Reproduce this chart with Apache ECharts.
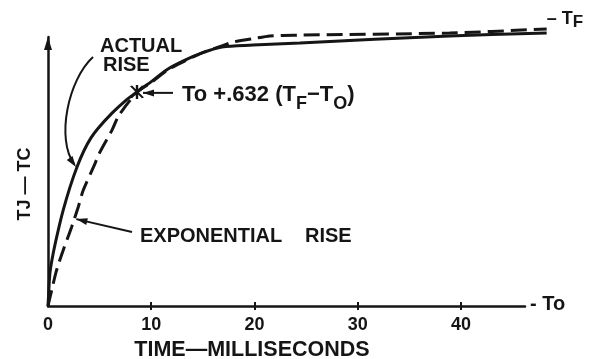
<!DOCTYPE html>
<html>
<head>
<meta charset="utf-8">
<script src="https://cdn.jsdelivr.net/npm/echarts@6/dist/echarts.min.js"></script>
<style>
  html, body { margin: 0; padding: 0; background: #fff; }
  #chart { width: 602px; height: 359px; }
</style>
</head>
<body>
<div id="chart"></div>
<script>
// Time axis, milliseconds
const TICK_VALUES = [0, 10, 20, 30, 40];
const TICK_LABELS = ['0', '10', '20', '30', '40'];
const T_AXIS_MAX = 46.2;   // end of the drawn time axis
const T_DATA_MAX = 48.6;   // curves run a little past the axis end
const V_AXIS_MAX = 100;    // arrow tip of the vertical axis
const V_DATA_MAX = 104;    // room above the arrow for the TF level

// Junction-to-case temperature rise (percent of the vertical scale)
const ACTUAL_T = [0, 0.05, 0.19, 0.51, 1.0, 1.48, 2.13, 2.81, 3.49, 4.16, 4.84, 6.2, 7.46, 8.62, 10.07, 11.62, 13.27, 14.92, 16.85, 19.85, 24.4, 38.9, 48.3];
const ACTUAL_V = [0, 3.5, 12.3, 19.7, 28.3, 35.7, 44.2, 51.7, 57.8, 62.5, 66.0, 71.7, 76.2, 79.6, 83.6, 88.1, 91.4, 94.1, 96.3, 97.0, 97.8, 100.4, 101.5];

const EXP_T = [0, 0.36, 0.84, 1.48, 2.29, 2.93, 3.42, 4.39, 5.03, 6.2, 6.78, 7.45, 8.13, 8.62, 10.07, 11.62, 13.27, 14.92, 16.85, 17.9, 19.8, 21.5, 24.4, 38.9, 48.3];
const EXP_V = [0, 5.9, 13.4, 20.8, 29.4, 36.8, 43.1, 51.5, 57.2, 65.4, 70.3, 74.0, 77.3, 79.6, 83.3, 87.8, 91.1, 94.1, 96.7, 98.1, 99.3, 100.4, 100.7, 101.5, 103.0];

// One time constant: To + .632 (TF - TO)
const TAU_POINT = [8.62, 79.6];

const INK = '#151515';
const FONT = '"Liberation Sans", Arial, Helvetica, sans-serif';

// asterisk made of three bars
const STAR_PATH = 'path://M10.8,0 L13.2,0 L13.2,24 L10.8,24 Z ' +
  'M7.04,1.01 L19.04,21.79 L16.96,22.99 L4.96,2.21 Z ' +
  'M16.96,1.01 L19.04,2.21 L7.04,22.99 L4.96,21.79 Z';

const zip = (xs, ys) => xs.map((x, i) => [x, ys[i]]);

// plot frame
const LEFT = 48, BOTTOM = 53, AXIS_W = 477, AXIS_H = 269;
const DATA_W = AXIS_W * T_DATA_MAX / T_AXIS_MAX;
const DATA_H = AXIS_H * V_DATA_MAX / V_AXIS_MAX;

const chart = echarts.init(document.getElementById('chart'), null, { renderer: 'canvas' });

const hiddenAxis = (gridIndex, max) => ({
  type: 'value', gridIndex, min: 0, max, show: false,
  axisLine: { show: false, onZero: false }, splitLine: { show: false }
});

const option = {
  animation: false,
  backgroundColor: '#ffffff',
  grid: [
    // visible axes
    { left: LEFT, bottom: BOTTOM, width: AXIS_W, height: AXIS_H, outerBoundsMode: 'none', containLabel: false },
    // curves (same scale, larger extent so nothing is cut)
    { left: LEFT, bottom: BOTTOM, width: DATA_W, height: DATA_H, outerBoundsMode: 'none', containLabel: false }
  ],
  xAxis: [
    {
      type: 'value', gridIndex: 0, min: 0, max: T_AXIS_MAX, interval: 10, position: 'bottom',
      axisLine: { show: true, onZero: false, lineStyle: { color: INK, width: 2.5 } },
      axisTick: { show: true, length: 4, customValues: TICK_VALUES.slice(1), lineStyle: { color: INK, width: 2 } },
      axisLabel: {
        customValues: TICK_VALUES,
        formatter: v => TICK_LABELS[TICK_VALUES.indexOf(v)],
        fontSize: 18, fontWeight: 'bold', fontFamily: FONT, color: INK, margin: 10
      },
      splitLine: { show: false },
      name: 'TIME—MILLISECONDS', nameLocation: 'middle', nameGap: 33,
      nameTextStyle: { fontSize: 21.5, fontWeight: 'bold', fontFamily: FONT, color: INK, padding: [0, 69, 0, 0] }
    },
    {
      type: 'value', gridIndex: 0, min: 0, max: T_AXIS_MAX, interval: 10, position: 'bottom',
      axisLine: { show: false, onZero: false },
      axisTick: { show: true, inside: true, length: 4, customValues: TICK_VALUES.slice(1), lineStyle: { color: INK, width: 2 } },
      axisLabel: { show: false },
      splitLine: { show: false }
    },
    hiddenAxis(1, T_DATA_MAX)
  ],
  yAxis: [
    {
      type: 'value', gridIndex: 0, min: 0, max: V_AXIS_MAX,
      axisLine: {
        show: true, onZero: false,
        symbol: ['none', 'path://M4,0 L8,13 L0,13 Z'], symbolSize: [8, 13], symbolOffset: [0, -6.5],
        lineStyle: { color: INK, width: 2.5 }
      },
      axisTick: { show: false },
      axisLabel: { show: false },
      splitLine: { show: false },
      name: 'TJ — TC', nameLocation: 'middle', nameGap: 14,
      nameTextStyle: { fontSize: 18, fontWeight: 'bold', fontFamily: FONT, color: INK, padding: [0, 25, 0, 0] }
    },
    hiddenAxis(1, V_DATA_MAX)
  ],
  series: [
    {
      name: 'ACTUAL RISE', type: 'line', xAxisIndex: 2, yAxisIndex: 1,
      data: zip(ACTUAL_T, ACTUAL_V),
      showSymbol: false, smooth: 0.3, clip: false,
      lineStyle: { color: INK, width: 3 }
    },
    {
      name: 'EXPONENTIAL RISE', type: 'line', xAxisIndex: 2, yAxisIndex: 1,
      data: zip(EXP_T, EXP_V),
      showSymbol: false, smooth: 0.3, clip: false,
      lineStyle: { color: INK, width: 3, type: [16, 7] },
      endLabel: {
        show: true, distance: 0, offset: [0, -10], color: INK,
        formatter: '{m|– T}{s|F}',
        rich: {
          m: { fontSize: 18, fontWeight: 'bold', fontFamily: FONT, color: INK },
          s: { fontSize: 17, fontWeight: 'bold', fontFamily: FONT, color: INK, padding: [6, 0, 0, 0] }
        }
      }
    },
    {
      name: 'time constant', type: 'scatter', xAxisIndex: 2, yAxisIndex: 1,
      data: [TAU_POINT],
      symbol: STAR_PATH, symbolSize: 14, clip: false,
      itemStyle: { color: INK, opacity: 1 },
      label: {
        show: true, position: 'right', distance: 38, offset: [0, 3], color: INK, opacity: 1,
        formatter: '{m|To +.632 (T}{s|F}{m|−T}{s|O}{m|)}',
        rich: {
          m: { fontSize: 22, fontWeight: 'bold', fontFamily: FONT, color: INK },
          s: { fontSize: 18, fontWeight: 'bold', fontFamily: FONT, color: INK, padding: [18, 0, 0, 0] }
        }
      }
    }
  ]
};

chart.setOption(option);

// annotation arrows, anchored to points on the curves
const px = p => chart.convertToPixel({ seriesIndex: 0 }, p);

function head(tip, from, len, half) {
  const dx = tip[0] - from[0], dy = tip[1] - from[1];
  const d = Math.hypot(dx, dy), ux = dx / d, uy = dy / d;
  const bx = tip[0] - ux * len, by = tip[1] - uy * len;
  return [[tip[0], tip[1]], [bx - uy * half, by + ux * half], [bx + uy * half, by - ux * half]];
}

const textEl = (text, x, y, size) => ({
  type: 'text', silent: true,
  style: { text, x, y, fontSize: size, fontWeight: 'bold', fontFamily: FONT, fill: INK, verticalAlign: 'middle', align: 'left' }
});
const lineEl = (a, b) => ({
  type: 'line', silent: true,
  shape: { x1: a[0], y1: a[1], x2: b[0], y2: b[1] },
  style: { stroke: INK, lineWidth: 2 }
});
const headEl = pts => ({ type: 'polygon', silent: true, shape: { points: pts }, style: { fill: INK } });

// "ACTUAL RISE" curved pointer
const aTip = px([2.81, 51.7]);
aTip[0] -= 1;
const aCp2 = [aTip[0] - 20, aTip[1] - 28];
const actualArrow = {
  type: 'bezierCurve', silent: true,
  shape: { x1: 93, y1: 57, cpx1: 68, cpy1: 80, cpx2: aCp2[0], cpy2: aCp2[1], x2: aTip[0] - 2, y2: aTip[1] - 3 },
  style: { stroke: INK, lineWidth: 2, fill: null }
};

// "EXPONENTIAL RISE" pointer
const eTip = px([2.55, 32.3]);
eTip[0] += 2;
const eFrom = [132, 232];

// pointer to the time-constant mark
const s = px(TAU_POINT);
const sTip = [s[0] + 6, s[1] + 1];
const sFrom = [s[0] + 36, s[1] + 1];

// end of the time axis (level To)
const o = px([T_AXIS_MAX, 0]);

chart.setOption({
  graphic: [
    textEl('ACTUAL', 100, 46, 20),
    textEl('RISE', 103, 65, 20),
    actualArrow,
    headEl(head(aTip, aCp2, 11, 3.5)),
    textEl('EXPONENTIAL', 140, 236, 20),
    textEl('RISE', 305, 236, 20),
    lineEl(eFrom, eTip),
    headEl(head(eTip, eFrom, 11, 3.5)),
    lineEl(sFrom, sTip),
    headEl(head(sTip, sFrom, 11, 3.5)),
    textEl('- To', o[0] + 5, o[1] - 2, 20)
  ]
});
</script>
</body>
</html>
